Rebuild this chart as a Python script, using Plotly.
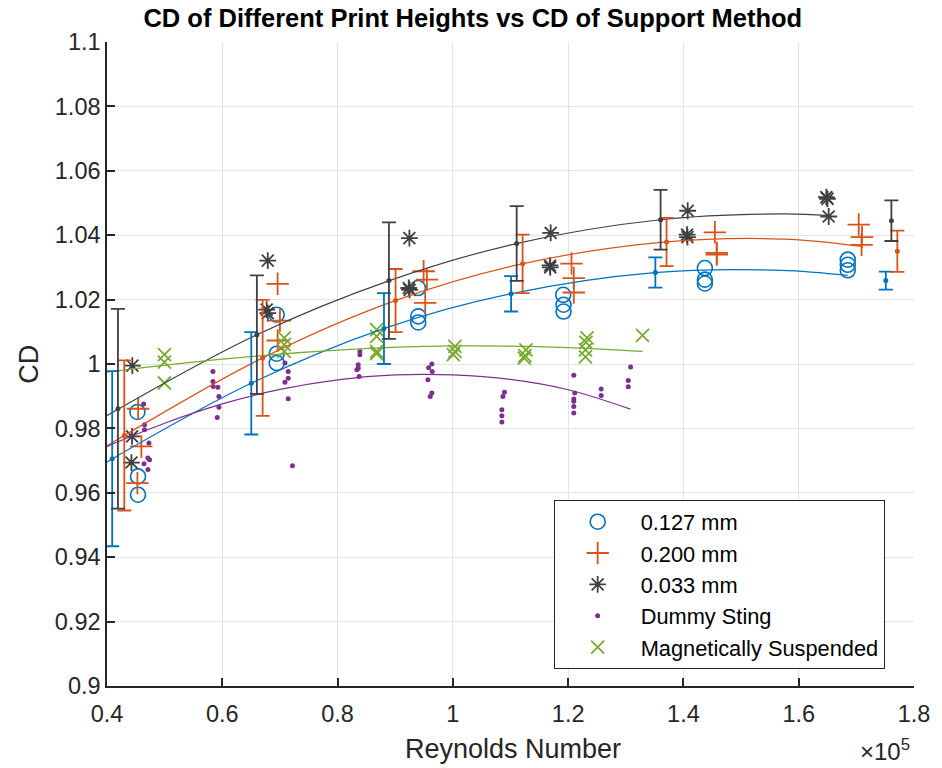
import plotly.graph_objects as go

# ---------------- data (Reynolds number in units of 1e5) ----------------
# 0.127 mm print height (blue circles)
re_127 = [0.4527, 0.4538, 0.4538, 0.6944, 0.6944, 0.6944, 0.9395, 0.9400, 0.9400,
          1.1915, 1.1920, 1.1920, 1.4372, 1.4372, 1.4372, 1.6851, 1.6851, 1.6851]
cd_127 = [0.9851, 0.9651, 0.9594, 1.0153, 1.0032, 1.0003, 1.0236, 1.0148, 1.0129,
          1.0215, 1.0184, 1.0163, 1.0298, 1.0262, 1.0250, 1.0324, 1.0308, 1.0291]

# 0.200 mm print height (orange plus)
re_200 = [0.4540, 0.4596, 0.4527, 0.6960, 0.7000, 0.6960, 0.9493, 0.9550, 0.9520,
          1.2058, 1.2098, 1.2098, 1.4545, 1.4578, 1.4578, 1.7041, 1.7098, 1.7090]
cd_200 = [0.9861, 0.9744, 0.9630, 1.0249, 1.0135, 1.0073, 1.0288, 1.0262, 1.0190,
          1.0312, 1.0267, 1.0222, 1.0409, 1.0345, 1.0340, 1.0433, 1.0394, 1.0370]

# 0.033 mm print height (dark asterisks)
re_033 = [0.4440, 0.4435, 0.4424, 0.6789, 0.6770, 0.6790, 0.9246, 0.9235, 0.9250,
          1.1697, 1.1685, 1.1690, 1.4074, 1.4063, 1.4070, 1.6479, 1.6500, 1.6520]
cd_033 = [0.9995, 0.9775, 0.9694, 1.0321, 1.0169, 1.0158, 1.0391, 1.0236, 1.0230,
          1.0407, 1.0306, 1.0300, 1.0476, 1.0402, 1.0394, 1.0518, 1.0513, 1.0458]

# Dummy sting (purple dots)
re_dummy = [0.4636, 0.4650, 0.4650, 0.4727, 0.4710, 0.4738, 0.4642, 0.4710,
            0.5838, 0.5838, 0.5844, 0.5924, 0.5941, 0.5941, 0.5913,
            0.7087, 0.7144, 0.7144, 0.7087, 0.7144, 0.7218,
            0.8387, 0.8387, 0.8358, 0.8358, 0.8335, 0.8375,
            0.9635, 0.9580, 0.9642, 0.9567, 0.9635, 0.9607,
            1.0895, 1.0867, 1.0850, 1.0850, 1.0850,
            1.2098, 1.2115, 1.2098, 1.2098, 1.2098, 1.2098,
            1.2573, 1.2573,
            1.3083, 1.3043, 1.3043]
cd_dummy = [0.9876, 0.9811, 0.9796, 0.9755, 0.9708, 0.9703, 0.9690, 0.9672,
            0.9977, 0.9946, 0.9930, 0.9928, 0.9899, 0.9866, 0.9834,
            1.0003, 0.9977, 0.9956, 0.9943, 0.9892, 0.9684,
            1.0039, 1.0029, 0.9998, 0.9987, 0.9982, 0.9961,
            1.0000, 0.9988, 0.9977, 0.9951, 0.9910, 0.9899,
            0.9912, 0.9899, 0.9858, 0.9839, 0.9820,
            0.9965, 0.9910, 0.9891, 0.9884, 0.9868, 0.9848,
            0.9922, 0.9902,
            0.9991, 0.9949, 0.9929]

# Magnetically suspended (green x)
re_mag = [0.4996, 0.4996, 0.4996, 0.7075, 0.7075, 0.7075,
          0.8678, 0.8678, 0.8678, 0.8678, 1.0036, 1.0036, 1.0008,
          1.1268, 1.1250, 1.1240, 1.2328, 1.2310, 1.2300, 1.2300, 1.3290]
cd_mag = [1.0029, 1.0006, 0.9941, 1.0081, 1.0060, 1.0039,
          1.0107, 1.0086, 1.0039, 1.0032, 1.0055, 1.0039, 1.0029,
          1.0044, 1.0026, 1.0018, 1.0081, 1.0067, 1.0044, 1.0022, 1.0089]

# fitted curves
fit_127_x = [0.40, 0.65, 0.88, 1.10, 1.35, 1.57, 1.685]
fit_127_y = [0.9696, 0.9940, 1.0110, 1.0218, 1.0284, 1.0291, 1.0275]
fit_200_x = [0.40, 0.67, 0.90, 1.12, 1.37, 1.573, 1.71]
fit_200_y = [0.9746, 1.0019, 1.0197, 1.0311, 1.0379, 1.0388, 1.0365]
fit_033_x = [0.40, 0.66, 0.89, 1.11, 1.36, 1.573, 1.652]
fit_033_y = [0.9840, 1.0091, 1.0259, 1.0374, 1.0448, 1.0466, 1.0461]
fit_dummy_x = [0.40, 0.50, 0.60, 0.70, 0.80, 0.90, 1.00, 1.10, 1.20, 1.308]
fit_dummy_y = [0.9744, 0.9816, 0.9876, 0.9921, 0.9951, 0.9966, 0.9966, 0.9952, 0.9920, 0.9860]
fit_mag_x = [0.40, 0.60, 0.80, 1.00, 1.20, 1.329]
fit_mag_y = [0.9975, 1.0015, 1.0043, 1.0056, 1.0051, 1.0039]

# error bars (mean +/- spread)
eb_127_x = [0.409, 0.6503, 0.8805, 1.101, 1.3513, 1.7511]
eb_127_y = [0.9706, 0.9940, 1.0110, 1.0218, 1.0284, 1.0259]
eb_127_e = [0.0272, 0.0159, 0.0110, 0.0055, 0.0047, 0.0028]
eb_200_x = [0.430, 0.670, 0.9006, 1.121, 1.3707, 1.7711]
eb_200_y = [0.9778, 1.0019, 1.0197, 1.0311, 1.0379, 1.0350]
eb_200_e = [0.0233, 0.0180, 0.0098, 0.0091, 0.0075, 0.0064]
eb_033_x = [0.419, 0.660, 0.8891, 1.1107, 1.3604, 1.7608]
eb_033_y = [0.9861, 1.0091, 1.0259, 1.0374, 1.0448, 1.0445]
eb_033_e = [0.0310, 0.0184, 0.0181, 0.0116, 0.0093, 0.0063]

x_ticks = [0.4, 0.6, 0.8, 1.0, 1.2, 1.4, 1.6, 1.8]
x_labels = ["0.4", "0.6", "0.8", "1", "1.2", "1.4", "1.6", "1.8"]
y_ticks = [0.9, 0.92, 0.94, 0.96, 0.98, 1.0, 1.02, 1.04, 1.06, 1.08, 1.1]
y_labels = ["0.9", "0.92", "0.94", "0.96", "0.98", "1", "1.02", "1.04", "1.06", "1.08", "1.1"]

BLUE = "#0072BD"
ORANGE = "#D95319"
DARK = "#404040"
PURPLE = "#7E2F8E"
GREEN = "#77AC30"
FONT = "Liberation Sans, Arial, sans-serif"
AXC = "#262626"

fig = go.Figure()

# markers
fig.add_trace(go.Scatter(x=re_127, y=cd_127, mode="markers", name="0.127 mm",
                         marker=dict(symbol="circle-open", size=15, color=BLUE, line=dict(width=1.6, color=BLUE))))
fig.add_trace(go.Scatter(x=re_200, y=cd_200, mode="markers", name="0.200 mm",
                         marker=dict(symbol="cross-thin-open", size=16, color=ORANGE, line=dict(width=1.8, color=ORANGE))))
fig.add_trace(go.Scatter(x=re_033, y=cd_033, mode="markers", name="0.033 mm",
                         marker=dict(symbol="asterisk-open", size=14, color=DARK, line=dict(width=1.8, color=DARK))))
fig.add_trace(go.Scatter(x=re_dummy, y=cd_dummy, mode="markers", name="Dummy Sting",
                         marker=dict(symbol="circle", size=5, color=PURPLE, line=dict(width=0))))
fig.add_trace(go.Scatter(x=re_mag, y=cd_mag, mode="markers", name="Magnetically Suspended",
                         marker=dict(symbol="x-thin-open", size=13, color=GREEN, line=dict(width=1.8, color=GREEN))))

# fitted curves
for fx, fy, c in [(fit_127_x, fit_127_y, BLUE), (fit_200_x, fit_200_y, ORANGE),
                  (fit_033_x, fit_033_y, DARK), (fit_dummy_x, fit_dummy_y, PURPLE),
                  (fit_mag_x, fit_mag_y, GREEN)]:
    fig.add_trace(go.Scatter(x=fx, y=fy, mode="lines", line=dict(color=c, width=1.2, shape="spline"),
                             showlegend=False, hoverinfo="skip"))

# error bars
for ex, ey, ee, c in [(eb_127_x, eb_127_y, eb_127_e, BLUE), (eb_200_x, eb_200_y, eb_200_e, ORANGE),
                      (eb_033_x, eb_033_y, eb_033_e, DARK)]:
    fig.add_trace(go.Scatter(x=ex, y=ey, mode="markers", showlegend=False,
                             marker=dict(symbol="circle", size=5, color=c),
                             error_y=dict(type="data", array=ee, symmetric=True, color=c,
                                          thickness=1.8, width=7)))

axis_common = dict(showline=True, linecolor=AXC, linewidth=1.5, ticks="inside", ticklen=8,
                   tickwidth=1.5, tickcolor=AXC, showgrid=True, gridcolor="#e3e3e3", gridwidth=1,
                   zeroline=False, mirror=False,
                   tickfont=dict(family=FONT, size=23.5, color=AXC))

fig.update_xaxes(range=[0.4, 1.8], tickvals=x_ticks, ticktext=x_labels, ticklabelstandoff=6, **axis_common)
fig.update_yaxes(range=[0.9, 1.1], tickvals=y_ticks, ticktext=y_labels, **axis_common)

fig.update_layout(
    width=942, height=768,
    margin=dict(l=107, r=20, t=42, b=82),
    paper_bgcolor="white", plot_bgcolor="white",
    font=dict(family=FONT, color=AXC),
    title=dict(text="<b>CD of Different Print Heights vs CD of Support Method</b>",
               x=0.4533, xref="paper", xanchor="center", y=0.977, yref="container", yanchor="middle",
               font=dict(family=FONT, size=25.5, color="black")),
    legend=dict(x=0.5535, y=0.2888, xanchor="left", yanchor="top",
                bgcolor="white", bordercolor=AXC, borderwidth=1,
                font=dict(family=FONT, size=21.8, color="black"),
                itemwidth=76, tracegroupgap=0),
    annotations=[
        dict(text="Reynolds Number", x=0.503, y=-0.098, xref="paper", yref="paper",
             xanchor="center", yanchor="middle", showarrow=False,
             font=dict(family=FONT, size=27, color=AXC)),
        dict(text="CD", x=-0.097, y=0.5, xref="paper", yref="paper", textangle=-90,
             xanchor="center", yanchor="middle", showarrow=False,
             font=dict(family=FONT, size=27, color=AXC)),
        dict(text="×10<sup>5</sup>", x=0.998, y=-0.1, xref="paper", yref="paper",
             xanchor="right", yanchor="middle", showarrow=False,
             font=dict(family=FONT, size=24, color=AXC)),
    ],
)

fig.write_html("out.html", config={"displayModeBar": False},
               post_script="document.body.style.margin='0';document.body.style.overflow='hidden';")
